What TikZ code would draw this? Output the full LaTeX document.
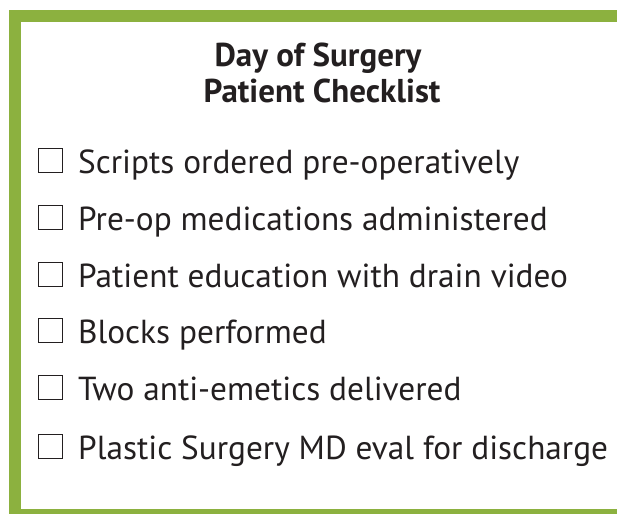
\documentclass[tikz,border=0pt]{standalone}
\usepackage{fontspec}
\setmainfont{PT Sans}
\definecolor{framegreen}{HTML}{8CB13F}
\definecolor{ink}{HTML}{231F20}
\begin{document}
\begin{tikzpicture}[x=1pt,y=-1pt,
  itemtext/.style={anchor=base west,inner sep=0pt,text=ink,font=\fontsize{33.3}{36}\selectfont},
  titletext/.style={anchor=base,inner sep=0pt,text=ink,font=\bfseries\fontsize{33}{36}\selectfont},
  cbox/.style={draw=ink,line width=1.3pt,minimum width=24pt,minimum height=24pt,inner sep=0pt,anchor=south west}]
\useasboundingbox (0,0) rectangle (617,514);
\fill[white] (0,0) rectangle (617,514);
\fill[framegreen] (9,10) rectangle (617,22);
\fill[framegreen] (9,10) rectangle (21,514);
\fill[framegreen] (9,509) rectangle (617,514);
\node[titletext] (t1) at (318,66) {Day of Surgery};
\node[titletext] (t2) at (322,102) {Patient Checklist};
\foreach \y/\txt [count=\i] in {173/Scripts ordered pre-operatively,
  230/Pre-op medications administered,
  287/Patient education with drain video,
  343/Blocks performed,
  400/Two anti-emetics delivered,
  459/Plastic Surgery MD eval for discharge}{
  \node[cbox] (b\i) at (37.5,\y) {};
  \node[itemtext] (l\i) at (78,\y) {\txt};
}
\end{tikzpicture}
\end{document}
